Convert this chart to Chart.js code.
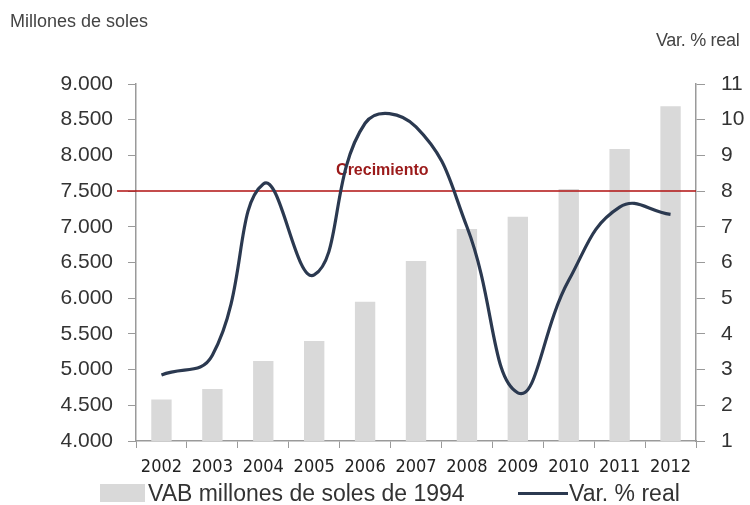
<!DOCTYPE html>
<html>
<head>
<meta charset="utf-8">
<script src="https://cdn.jsdelivr.net/npm/chart.js@4"></script>
<style>
  body { margin: 0; background: #fff; }
  #wrap { position: relative; width: 750px; height: 505px; font-family: "Liberation Sans", Arial, sans-serif; color: #333; }
  #wrap canvas { position: absolute; left: 0; top: 0; }
  .lbl { position: absolute; white-space: nowrap; }
  #legend { position: absolute; left: 100px; top: 480px; height: 26px; font-size: 23px; color: #333; white-space: nowrap; }
  #legend span { position: absolute; top: 0; line-height: 26px; }
</style>
</head>
<body>
<div id="wrap">
  <canvas id="chart" width="750" height="505"></canvas>
  <div class="lbl" style="left:10px; top:11px; font-size:18px; color:#444;">Millones de soles</div>
  <div class="lbl" style="left:656px; top:30px; font-size:18px; color:#444; letter-spacing:-0.3px;">Var. % real</div>
  <div id="legend">
    <span style="left:0; top:4px; width:45px; height:18px; background:#d9d9d9;"></span>
    <span style="left:48px;">VAB millones de soles de 1994</span>
    <span style="left:418px; top:12px; width:50px; height:3px; background:#2b3950;"></span>
    <span style="left:469px;">Var. % real</span>
  </div>
</div>
<script>
// datos
var years = ['2002', '2003', '2004', '2005', '2006', '2007', '2008', '2009', '2010', '2011', '2012']
var vab = [4580, 4730, 5120, 5400, 5950, 6520, 6970, 7140, 7530, 8090, 8690]
var varReal = [2.85, 3.4, 8.2, 5.65, 9.9, 9.8, 7.0, 2.35, 5.5, 7.55, 7.35]
var refValue = 7500
var refLabel = 'Crecimiento'

var axisGray = '#9a9a9a'

// linea roja de referencia, entre las barras y la curva
var refLine = {
    id: 'refLine',
    afterDatasetDraw: function (chart, args) {
        if (args.index !== 0) return
        var ctx = chart.ctx
        var y = chart.scales.y.getPixelForValue(refValue)
        ctx.save()
        ctx.strokeStyle = '#b01010'
        ctx.lineWidth = 1.5
        ctx.beginPath()
        ctx.moveTo(117, y)
        ctx.lineTo(chart.chartArea.right, y)
        ctx.stroke()
        ctx.fillStyle = '#9b1a1a'
        ctx.font = 'bold 16px "Liberation Sans", Arial, sans-serif'
        ctx.textBaseline = 'alphabetic'
        ctx.fillText(refLabel, chart.scales.x.getPixelForValue(4) - 29, y - 16)
        ctx.restore()
    }
}

var ctx = document.getElementById('chart').getContext('2d')
var chart = new Chart(ctx, {
    data: {
        labels: years,
        datasets: [
            {
                type: 'bar',
                label: 'VAB millones de soles de 1994',
                data: vab,
                backgroundColor: '#d9d9d9',
                yAxisID: 'y',
                order: 1,
                barPercentage: 0.4,
                categoryPercentage: 1
            },
            {
                type: 'line',
                label: 'Var. % real',
                data: varReal,
                borderColor: '#2b3950',
                borderWidth: 3.2,
                pointRadius: 0,
                tension: 0.45,
                yAxisID: 'y1',
                order: 0
            }
        ]
    },
    options: {
        responsive: false,
        animation: false,
        layout: { padding: { top: 84, left: 0, right: 0, bottom: 24 } },
        plugins: {
            legend: { display: false },
            tooltip: { enabled: false }
        },
        scales: {
            x: {
                grid: { drawOnChartArea: false, offset: true, tickLength: 7, color: axisGray },
                border: { color: axisGray, width: 1.5 },
                ticks: { color: '#222', padding: 9, font: { family: '"Liberation Sans Narrow", "DejaVu Sans Condensed", "Liberation Sans"', size: 18 } },
                afterFit: function (scale) { scale.height = 40 }
            },
            y: {
                position: 'left',
                min: 4000,
                max: 9000,
                grid: { drawOnChartArea: false, tickLength: 8, color: axisGray },
                border: { color: axisGray, width: 1.5 },
                ticks: {
                    stepSize: 500,
                    color: '#333',
                    padding: 15,
                    font: { family: '"Liberation Sans", Arial, sans-serif', size: 21 },
                    callback: function (v) { return v.toLocaleString('de-DE', { minimumFractionDigits: 0 }).replace(',', '.') }
                },
                afterFit: function (scale) { scale.width = 136 }
            },
            y1: {
                position: 'right',
                min: 1,
                max: 11,
                grid: { drawOnChartArea: false, tickLength: 9, color: axisGray },
                border: { color: axisGray, width: 1.5 },
                ticks: {
                    stepSize: 1,
                    color: '#333',
                    padding: 16,
                    font: { family: '"Liberation Sans", Arial, sans-serif', size: 21 }
                },
                afterFit: function (scale) { scale.width = 54 }
            }
        }
    },
    plugins: [refLine]
})
</script>
</body>
</html>
